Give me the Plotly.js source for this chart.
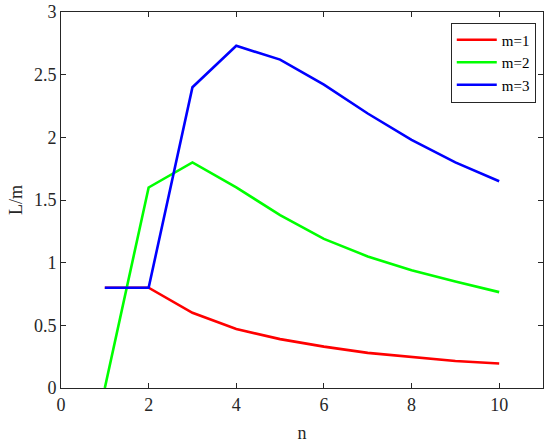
<!DOCTYPE html>
<html><head><meta charset="utf-8">
<script src="https://cdn.plot.ly/plotly-3.0.1.min.js"></script>
<style>body{margin:0;background:#fff}#c{width:550px;height:445px}</style>
</head><body><div id="c"></div>
<script>
const n = [1,2,3,4,5,6,7,8,9,10];
const m1 = [0.8,0.8,0.6,0.47,0.39,0.33,0.28,0.245,0.215,0.195];
const m2 = [0,1.6,1.8,1.6,1.38,1.19,1.05,0.94,0.85,0.765];
const m3 = [0.8,0.8,2.4,2.73,2.62,2.42,2.19,1.98,1.8,1.65];
const names = ['m=1','m=2','m=3'];
const colors = ['#ff0000','#00ff00','#0000ff'];
const series = [m1,m2,m3];
const traces = series.map((y,i)=>({x:n,y:y,type:'scatter',mode:'lines',name:names[i],line:{color:colors[i],width:2.6}}));
const axcol = '#262626';
const fam = 'Liberation Serif';
const layout = {
  width:550,height:445,
  margin:{l:61,r:7,t:12,b:57},
  paper_bgcolor:'#fff',plot_bgcolor:'#fff',
  font:{family:fam,size:18,color:axcol},
  showlegend:true,
  xaxis:{range:[0,11],tickvals:[0,2,4,6,8,10],ticks:'inside',ticklen:5,tickcolor:axcol,showline:true,linecolor:axcol,linewidth:1,mirror:'ticks',showgrid:false,zeroline:false,
    title:{text:'n',font:{family:fam,size:18,color:axcol},standoff:12},tickfont:{family:fam,size:18,color:axcol}},
  yaxis:{range:[0,3],tickvals:[0,0.5,1,1.5,2,2.5,3],ticktext:['0','0.5','1','1.5','2','2.5','3'],ticks:'inside',ticklen:5,tickcolor:axcol,showline:true,linecolor:axcol,linewidth:1,mirror:'ticks',showgrid:false,zeroline:false,
    title:{text:'L/m',font:{family:fam,size:18,color:axcol},standoff:6},tickfont:{family:fam,size:18,color:axcol}},
  legend:{x:0.985,y:0.972,xanchor:'right',yanchor:'top',bgcolor:'#fff',bordercolor:'#262626',borderwidth:1,font:{family:fam,size:15,color:'#000'},tracegroupgap:0,itemwidth:40}
};
Plotly.newPlot('c',traces,layout,{staticPlot:true});
</script></body></html>
